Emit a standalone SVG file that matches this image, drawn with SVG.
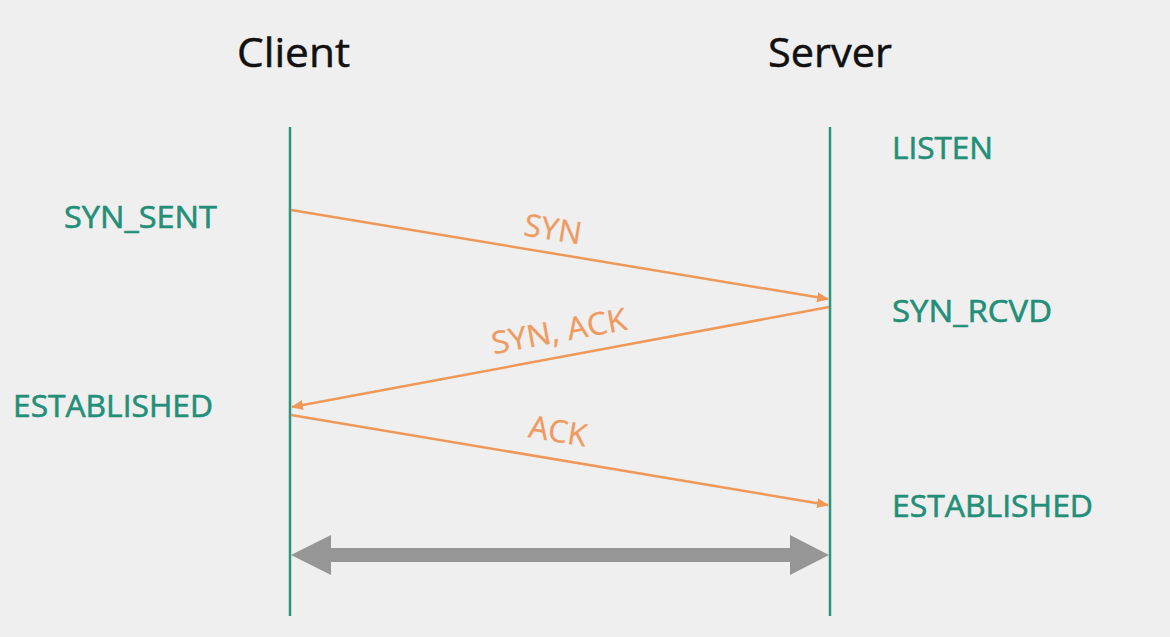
<svg xmlns="http://www.w3.org/2000/svg" width="1170" height="637" viewBox="0 0 1170 637">
<style>
.title{font-family:"Open Sans","Noto Sans","Liberation Sans",sans-serif;font-size:40px;fill:#111;stroke:#111;stroke-width:0.5;}
.state{font-family:"Open Sans","Noto Sans","Liberation Sans",sans-serif;font-size:31px;fill:#238f78;stroke:#238f78;stroke-width:0.6;}
.msg{font-family:"Open Sans","Noto Sans","Liberation Sans",sans-serif;font-size:31px;fill:#ee9a60;text-anchor:middle;stroke:#ee9a60;stroke-width:0.3;}
.life{stroke:#2a957c;stroke-width:2.5;fill:none;}
.arr{stroke:#f09858;stroke-width:2.5;fill:none;marker-end:url(#ah);}
</style>
<defs>
<marker id="ah" markerWidth="12" markerHeight="10" refX="11" refY="5" orient="auto" markerUnits="userSpaceOnUse">
<path d="M0,0 L12,5 L0,10 z" fill="#f09858"/>
</marker>
</defs>
<rect x="0" y="0" width="1170" height="637" fill="#efefef"/>
<g id="client">
<text class="title" x="237" y="67" textLength="113" lengthAdjust="spacingAndGlyphs">Client</text>
<line class="life" x1="290" y1="127" x2="290" y2="616"/>
</g>
<g id="server">
<text class="title" x="768" y="67" textLength="124" lengthAdjust="spacingAndGlyphs">Server</text>
<line class="life" x1="830" y1="127" x2="830" y2="616"/>
</g>
<g id="client-states">
<text class="state" x="64" y="228" textLength="153" lengthAdjust="spacingAndGlyphs">SYN_SENT</text>
<text class="state" x="13" y="417" textLength="200" lengthAdjust="spacingAndGlyphs">ESTABLISHED</text>
</g>
<g id="server-states">
<text class="state" x="892" y="159" textLength="101" lengthAdjust="spacingAndGlyphs">LISTEN</text>
<text class="state" x="892" y="322" textLength="160" lengthAdjust="spacingAndGlyphs">SYN_RCVD</text>
<text class="state" x="892" y="517" textLength="201" lengthAdjust="spacingAndGlyphs">ESTABLISHED</text>
</g>
<g id="connectors">
<line class="arr" x1="291" y1="210" x2="828" y2="299"/>
<line class="arr" x1="829" y1="307" x2="292" y2="407"/>
<line class="arr" x1="291" y1="415" x2="828" y2="505"/>
<text class="msg" transform="translate(553,229) rotate(9.4)" y="11">SYN</text>
<text class="msg" transform="translate(559,331) rotate(-10.5)" y="11" textLength="137" lengthAdjust="spacingAndGlyphs">SYN, ACK</text>
<text class="msg" transform="translate(558,431) rotate(9.4)" y="11">ACK</text>
<polygon id="duration" fill="#969696" points="291,555 331,535 331,548 790,548 790,535 829,555 790,575 790,562 331,562 331,575"/>
</g>
</svg>
